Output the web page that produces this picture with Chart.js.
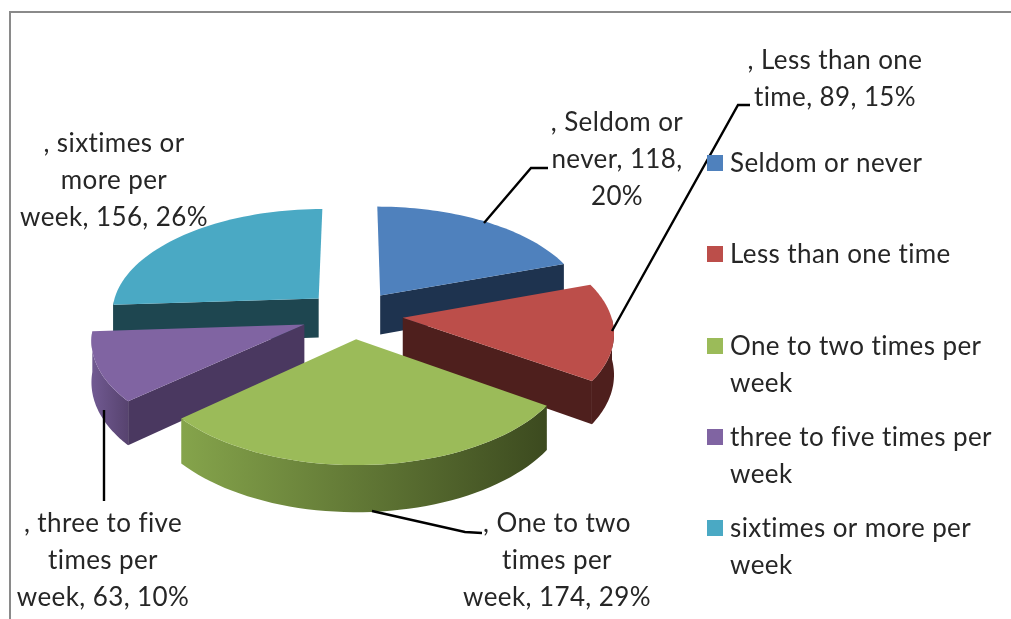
<!DOCTYPE html>
<html>
<head>
<meta charset="utf-8">
<title>Frequency pie</title>
<style>
  html, body { margin: 0; padding: 0; background: #fff; overflow: hidden; }
  #frame { position: absolute; left: 9px; top: 11px; width: 1010px; height: 620px; border-top: 2px solid #8a8a8a; border-left: 2px solid #8a8a8a; }
  #wrap { position: absolute; left: 0; top: 0; width: 1011px; height: 619px; }
</style>
</head>
<body>
<div id="frame"></div>
<div id="wrap"><canvas id="pie" width="1011" height="619"></canvas></div>
<script src="https://cdn.jsdelivr.net/npm/chart.js@4"></script>
<script>
const CATEGORIES = ["Seldom or never", "Less than one time", "One to two times per week", "three to five times per week", "sixtimes or more per week"];
const VALUES = [118, 89, 174, 63, 156];

const LEGEND_LINES = [["Seldom or never"], ["Less than one time"], ["One to two times per", "week"], ["three to five times per", "week"], ["sixtimes or more per", "week"]];
const DATA_LABEL_LINES = [
  [", Seldom or", "never, 118,", "20%"],
  [", Less than one", "time, 89, 15%"],
  [", One to two", "times per", "week, 174, 29%"],
  [", three to five", "times per", "week, 63, 10%"],
  [", sixtimes or", "more per", "week, 156, 26%"],
];

const TOP_COLORS = ["#4f81bd", "#bc4e4a", "#9bbb59", "#8064a2", "#4aa9c4"];
const FACE_COLORS = ["#1e334f", "#4e1f1d", "#3f4d20", "#4a3860", "#1e4650"];
const ARC_COLORS = [["#1e334f", "#1e334f"], ["#4e1f1d", "#4e1f1d"], ["#85a44b", "#3c4a1f"], ["#715a92", "#57436f"], ["#1e4650", "#1e4650"]];
const EXPLODE = [48, 50, 48, 52, 48];

const FONT = '26px Lato, "Open Sans", sans-serif';
const TEXT_COLOR = "#262626";

// 3D view settings, fitted by eye
const SQUASH = 0.5;
const VIEW_DIST = 1700;
const DEPTH = 40;

// where each data label sits (centre x, first line centre y) and its leader line
const LABEL_SPOTS = [[617, 123], [835, 61], [557, 524], [103, 524], [114, 144]];
const LEADERS = [
  [[484, 223], [531, 168], [548, 168]],
  [[612, 331], [738, 105], [750, 105]],
  [[372, 511], [465, 532], [482, 533]],
  [[104, 410], [104, 501]],
  [],
];
const LINE_PITCH = 36.7;
const LEGEND_Y = [164, 255, 347, 438, 529];

function sliceOutline(arc, project) {
  const { startAngle, endAngle, outerRadius, options } = arc;
  const mid = (startAngle + endAngle) / 2;
  const ax = Math.cos(mid) * options.offset;
  const ay = Math.sin(mid) * options.offset;
  const rim = [];
  const front = [];
  const steps = 48;
  for (let i = 0; i <= steps; i++) {
    const a = startAngle + ((endAngle - startAngle) * i) / steps;
    const p = project(ax + Math.cos(a) * outerRadius, ay + Math.sin(a) * outerRadius);
    rim.push(p);
    if (Math.sin(a) >= 0) front.push(p);
  }
  return { apex: project(ax, ay), rim, front };
}

function fillPoly(ctx, pts, fill) {
  ctx.beginPath();
  pts.forEach((p, i) => (i ? ctx.lineTo(p.x, p.y) : ctx.moveTo(p.x, p.y)));
  ctx.closePath();
  ctx.fillStyle = fill;
  ctx.fill();
}

const lowered = (p) => ({ x: p.x, y: p.y + DEPTH * p.s });

const pie3d = {
  id: "pie3d",
  beforeDatasetDraw(chart) {
    const { ctx } = chart;
    const arcs = chart.getDatasetMeta(0).data;
    const cx = arcs[0].x;
    const cy = arcs[0].y;
    const project = (u, v) => {
      const s = VIEW_DIST / (VIEW_DIST - v);
      return { x: cx + u * s, y: cy + v * SQUASH * s, s };
    };
    // back to front
    const order = [4, 0, 3, 1, 2];
    for (const i of order) {
      const arc = arcs[i];
      const { apex, rim, front } = sliceOutline(arc, project);
      const first = rim[0];
      const last = rim[rim.length - 1];

      // radial faces, only those turned to the viewer
      if (-Math.cos(arc.startAngle) > 0.01) {
        fillPoly(ctx, [apex, first, lowered(first), lowered(apex)], FACE_COLORS[i]);
      }
      if (Math.cos(arc.endAngle) > 0.01) {
        fillPoly(ctx, [apex, last, lowered(last), lowered(apex)], FACE_COLORS[i]);
      }

      // curved rim, front part only
      if (front.length > 1) {
        const xs = front.map((p) => p.x);
        const grad = ctx.createLinearGradient(Math.min(...xs), 0, Math.max(...xs), 0);
        grad.addColorStop(0, ARC_COLORS[i][0]);
        grad.addColorStop(1, ARC_COLORS[i][1]);
        fillPoly(ctx, front.concat(front.map(lowered).reverse()), grad);
      }

      // top
      fillPoly(ctx, [apex, ...rim], arc.options.backgroundColor);
    }
    return false;
  },
  afterDraw(chart) {
    const { ctx } = chart;
    ctx.save();

    ctx.strokeStyle = "#000";
    ctx.lineWidth = 2.4;
    for (const pts of LEADERS) {
      if (!pts.length) continue;
      ctx.beginPath();
      pts.forEach(([x, y], i) => (i ? ctx.lineTo(x, y) : ctx.moveTo(x, y)));
      ctx.stroke();
    }

    ctx.font = FONT;
    ctx.letterSpacing = "0.4px";
    ctx.fillStyle = TEXT_COLOR;
    ctx.textBaseline = "middle";

    ctx.textAlign = "center";
    DATA_LABEL_LINES.forEach((lines, i) => {
      const [x, y] = LABEL_SPOTS[i];
      lines.forEach((line, j) => ctx.fillText(line, x, y + j * LINE_PITCH));
    });

    ctx.textAlign = "left";
    LEGEND_LINES.forEach((lines, i) => {
      ctx.fillStyle = TOP_COLORS[i];
      ctx.fillRect(707, LEGEND_Y[i] - 9, 16, 16);
      ctx.fillStyle = TEXT_COLOR;
      lines.forEach((line, j) => ctx.fillText(line, 730, LEGEND_Y[i] + j * (LINE_PITCH - 0.5)));
    });
    ctx.restore();
  },
};

new Chart(document.getElementById("pie"), {
  type: "pie",
  plugins: [pie3d],
  data: {
    labels: CATEGORIES,
    datasets: [{ data: VALUES, backgroundColor: TOP_COLORS, offset: EXPLODE, borderWidth: 0 }],
  },
  options: {
    responsive: false,
    animation: false,
    radius: 208,
    layout: { padding: { left: 0, right: 305, top: 10, bottom: 0 } },
    plugins: { legend: { display: false }, tooltip: { enabled: false } },
  },
});
</script>
</body>
</html>
